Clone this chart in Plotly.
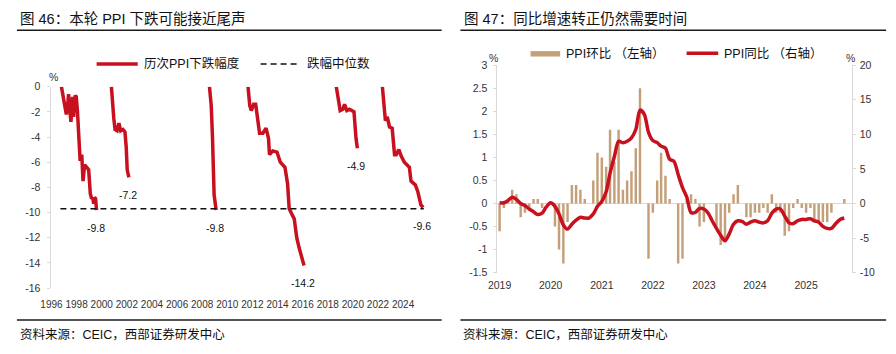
import numpy as np
import pandas as pd
import plotly.graph_objects as go

# ---------------- Left chart: cumulative PPI decline in each episode (%)
ep1_x = [1996.79, 1997.02, 1997.18, 1997.27, 1997.36, 1997.44, 1997.55, 1997.68, 1997.76, 1997.89,
         1997.97, 1998.07, 1998.28, 1998.41, 1998.51, 1998.64, 1998.8, 1998.96, 1999.09, 1999.2,
         1999.28, 1999.36, 1999.43, 1999.51, 1999.59]
ep1_y = [0, -1.5, -2.2, -1.7, -0.6, -1.7, -2.8, -0.8, -2.4, -0.7,
         -0.8, -2.0, -5.9, -5.4, -7.5, -6.2, -6.4, -6.6, -8.5, -8.9,
         -8.8, -9.3, -8.8, -8.9, -9.8]
ep2_x = [2000.77, 2000.85, 2000.96, 2001.06, 2001.22, 2001.37, 2001.51, 2001.69, 2001.85, 2001.95, 2002.03, 2002.16]
ep2_y = [0, -1.5, -2.5, -3.4, -3.5, -2.9, -3.5, -3.4, -3.6, -4.8, -6.6, -7.2]
ep3_x = [2008.58, 2008.72, 2008.82, 2008.87, 2008.95, 2009.11]
ep3_y = [0, -1.5, -4.0, -6.6, -8.6, -9.8]
ep4_x = [2011.65, 2011.79, 2011.91, 2012.1, 2012.26, 2012.36, 2012.57, 2012.83, 2013.09, 2013.28, 2013.36,
         2013.62, 2013.96, 2014.22, 2014.59, 2014.8, 2014.93, 2015.33, 2015.53, 2015.72, 2016.11]
ep4_y = [0, -1.5, -1.9, -1.4, -1.4, -2.3, -3.7, -3.7, -3.3, -4.1, -5.4,
         -5.1, -5.2, -6.0, -6.4, -7.7, -9.7, -10.5, -12.0, -12.8, -14.2]
ep5_x = [2018.68, 2018.86, 2018.99, 2019.2, 2019.34, 2019.52, 2019.73, 2019.91, 2020.09, 2020.25, 2020.36]
ep5_y = [0, -1.0, -1.9, -1.8, -1.4, -1.9, -1.8, -1.9, -2.0, -4.1, -4.9]
ep6_x = [2022.35, 2022.48, 2022.59, 2022.74, 2022.92, 2023.13, 2023.32, 2023.45, 2023.66, 2023.84,
         2024.1, 2024.5, 2024.63, 2024.97, 2025.16, 2025.42, 2025.6]
ep6_y = [0, -1.5, -2.7, -2.4, -3.2, -3.3, -5.4, -5.4, -5.0, -5.5,
         -6.0, -6.4, -7.5, -7.8, -8.3, -9.4, -9.6]
episodes = [(ep1_x, ep1_y), (ep2_x, ep2_y), (ep3_x, ep3_y), (ep4_x, ep4_y), (ep5_x, ep5_y), (ep6_x, ep6_y)]
median_span = [1996.71, 2025.65]
left_xticks = list(range(1996, 2025, 2))
left_yticks = list(range(0, -17, -2))

# ---------------- Right chart: PPI MoM (left axis) and YoY (right axis), Jan 2019 - Oct 2025
ppi_mom = [-0.6, -0.1, 0.1, 0.3, 0.2, -0.3, -0.2, -0.1, 0.1, 0.1, -0.1, 0.0,
           0.0, -0.5, -1.0, -1.3, -0.4, 0.4, 0.4, 0.3, 0.1, 0.0, 0.5, 1.1,
           1.0, 0.8, 1.6, 0.9, 1.6, 0.3, 0.5, 0.7, 1.2, 2.5, 0.0, -1.2,
           -0.2, 0.5, 1.1, 0.6, 0.1, 0.0, -1.3, -1.2, 0.1, 0.2, 0.1, -0.5,
           -0.4, 0.0, 0.0, -0.5, -0.9, -0.8, -0.2, 0.2, 0.4, 0.0, -0.3, -0.3,
           -0.2, -0.2, -0.1, -0.2, 0.2, -0.2, -0.2, -0.7, -0.6, -0.1, 0.1, -0.1,
           -0.2, -0.1, -0.4, -0.4, -0.4, -0.4, -0.2, 0.0, 0.0, 0.1]
ppi_yoy = [0.1, 0.1, 0.4, 0.9, 0.6, 0.0, -0.3, -0.8, -1.2, -1.6, -1.4, -0.5,
           0.1, -0.4, -1.5, -3.1, -3.7, -3.0, -2.4, -2.0, -2.1, -2.1, -1.5, -0.4,
           0.3, 1.7, 4.4, 6.8, 9.0, 8.8, 9.0, 9.5, 10.7, 13.5, 12.9, 10.3,
           9.1, 8.8, 8.3, 8.0, 6.4, 6.1, 4.2, 2.3, 0.9, -1.3, -1.3, -0.7,
           -0.8, -1.4, -2.5, -3.6, -4.6, -5.4, -4.4, -3.0, -2.5, -2.6, -3.0, -2.7,
           -2.5, -2.7, -2.8, -2.5, -1.4, -0.8, -0.8, -1.8, -2.8, -2.9, -2.5, -2.3,
           -2.3, -2.2, -2.5, -2.7, -3.3, -3.6, -3.6, -2.9, -2.3, -2.1]
months = pd.date_range("2019-01-01", periods=len(ppi_mom), freq="MS").strftime("%Y-%m-%d").tolist()
mom_ticks = [3, 2.5, 2, 1.5, 1, 0.5, 0, -0.5, -1, -1.5]
yoy_ticks = [20, 15, 10, 5, 0, -5, -10]

RED = "#C8101E"
TAN = "#C4A07A"
AX = "#D9D9D9"
TXT = "#333333"
FONT = "Liberation Sans, Noto Sans CJK SC, sans-serif"
W, H = 896, 354


def fx(p):
    return p / W


def fy(p):
    return 1 - p / H


def fmt(v):
    return f"{v:g}"


fig = go.Figure()

# left chart lines (episodes joined with gaps)
lx, ly = [], []
for ex, ey in episodes:
    lx += ex + [None]
    ly += ey + [None]
fig.add_trace(go.Scatter(x=lx, y=ly, mode="lines", xaxis="x", yaxis="y",
                         line=dict(color=RED, width=3.5), connectgaps=False,
                         showlegend=False, hoverinfo="skip"))
troughs = [ey[-1] for _, ey in episodes]
median_val = float(np.median(troughs))
fig.add_trace(go.Scatter(x=median_span, y=[median_val, median_val], mode="lines", xaxis="x", yaxis="y",
                         line=dict(color="#111111", width=1.6, dash="6px,4px"),
                         showlegend=False, hoverinfo="skip"))

# right chart
fig.add_trace(go.Bar(x=months, y=ppi_mom, xaxis="x2", yaxis="y2", marker_color=TAN,
                     marker_line_width=0, showlegend=False, hoverinfo="skip"))
fig.add_trace(go.Scatter(x=months, y=ppi_yoy, xaxis="x2", yaxis="y3", mode="lines",
                         line=dict(color=RED, width=3.5, shape="spline", smoothing=0.8),
                         showlegend=False, hoverinfo="skip"))

tickfont = dict(family=FONT, size=10.5, color=TXT)
xtickfont = dict(family=FONT, size=10, color=TXT)
fig.update_layout(
    width=W, height=H, margin=dict(l=0, r=0, t=0, b=0),
    paper_bgcolor="white", plot_bgcolor="white",
    bargap=0.37,
    xaxis=dict(domain=[fx(41), fx(421)], range=[1996, 2025.89], anchor="y",
               tickvals=left_xticks, ticktext=[str(v) for v in left_xticks],
               tickangle=0, showline=False, showgrid=False, zeroline=False, ticks="",
               tickfont=xtickfont, ticklabelstandoff=9),
    xaxis3=dict(overlaying="x", side="top", anchor="y", range=[1996, 2025.89],
                tickvals=left_xticks, showticklabels=False, showline=True, linecolor=AX,
                linewidth=1, ticks="inside", ticklen=3, tickcolor=AX, showgrid=False, zeroline=False),
    yaxis=dict(domain=[fy(292), fy(83.5)], range=[-16, 0], anchor="x",
               tickvals=left_yticks, ticktext=[fmt(v) for v in left_yticks],
               showline=True, linecolor=AX, linewidth=1, ticks="outside", ticklen=3,
               tickcolor=AX, showgrid=False, zeroline=False, tickfont=tickfont,
               ticklabelstandoff=5),
    xaxis2=dict(domain=[fx(492.4), fx(851)], type="date", anchor="y2",
                range=["2018-12-16", "2025-11-22"], tickformat="%Y", dtick="M12",
                tick0="2019-01-01", tickangle=0, showline=False, showgrid=False, zeroline=False,
                ticks="", tickfont=tickfont, ticklabelstandoff=5),
    yaxis2=dict(domain=[fy(276), fy(61.3)], range=[-1.5, 3], anchor="x2",
                tickvals=mom_ticks, ticktext=[fmt(v) for v in mom_ticks],
                showline=True, linecolor=AX, linewidth=1, ticks="outside", ticklen=3,
                tickcolor=AX, showgrid=False, zeroline=True, zerolinecolor=AX,
                zerolinewidth=1, tickfont=tickfont, ticklabelstandoff=4),
    yaxis3=dict(overlaying="y2", side="right", anchor="x2", range=[-10, 20],
                tickvals=yoy_ticks, ticktext=[fmt(v) for v in yoy_ticks],
                showline=True, linecolor=AX, linewidth=1, ticks="outside", ticklen=3,
                tickcolor=AX, showgrid=False, zeroline=False, tickfont=tickfont,
                ticklabelstandoff=2),
)

ann = []
# data labels on the left chart
for ex, ey in episodes:
    ann.append(dict(x=ex[-1], y=ey[-1], xref="x", yref="y", text=fmt(ey[-1]),
                    showarrow=False, yshift=-18, xshift=-1,
                    font=dict(family=FONT, size=10.5, color="#111111")))


def txt(x, y, s, size, anchor="left", color="#111111"):
    ann.append(dict(x=fx(x), y=fy(y), xref="paper", yref="paper", text=s, showarrow=False,
                    xanchor=anchor, yanchor="middle",
                    font=dict(family=FONT, size=size, color=color)))


txt(7, 13, "图 46：本轮 PPI 下跌可能接近尾声", 14.5)
txt(457, 13, "图 47：同比增速转正仍然需要时间", 14.5)
txt(7, 340, "资料来源：CEIC，西部证券研发中心", 12.5)
txt(456, 340, "资料来源：CEIC，西部证券研发中心", 12.5)
txt(132.5, 60, "历次PPI下跌幅度", 12.5)
txt(298, 60, "跌幅中位数", 12.5)
txt(559.5, 49, "PPI环比 （左轴）", 12.5)
txt(719.5, 49, "PPI同比 （右轴）", 12.5)
txt(43, 73, "%", 10.5, "center", TXT)
txt(488, 54, "%", 10.5, "center", TXT)
txt(850, 54, "%", 10.5, "center", TXT)

shapes = []


def hline(x0, x1, y, color, width, dash="solid"):
    shapes.append(dict(type="line", xref="paper", yref="paper", x0=fx(x0), x1=fx(x1),
                       y0=fy(y), y1=fy(y), line=dict(color=color, width=width, dash=dash)))


hline(6, 436, 25, "#1a1a1a", 1.5)
hline(455, 886, 25, "#1a1a1a", 1.5)
hline(6, 436, 325, "#1a1a1a", 1.5)
hline(455, 886, 325, "#1a1a1a", 1.5)
hline(86.7, 128.3, 60, RED, 3.5)
hline(252.7, 292.7, 60, "#111111", 1.6, "6px,4px")
hline(684, 716, 49, RED, 3.5)
shapes.append(dict(type="rect", xref="paper", yref="paper", x0=fx(526), x1=fx(556),
                   y0=fy(52.3), y1=fy(46.7), fillcolor=TAN, line=dict(width=0)))

fig.update_layout(annotations=ann, shapes=shapes)
fig.write_html("out.html")
